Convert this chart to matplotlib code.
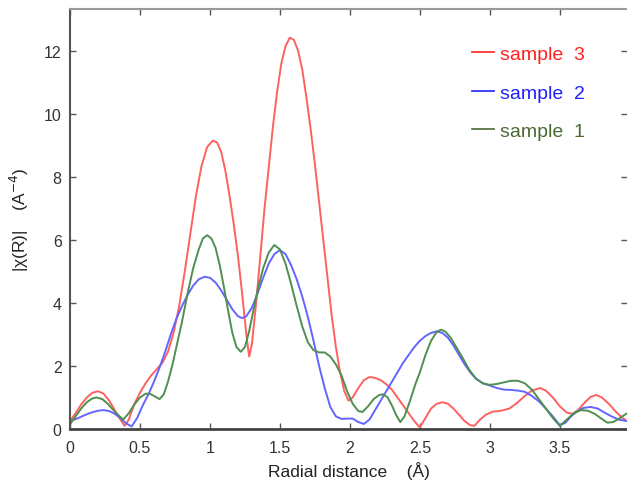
import matplotlib
matplotlib.use("Agg")
import matplotlib.pyplot as plt

plt.rcParams["font.family"] = ["Liberation Sans", "DejaVu Sans"]

# ----------------------------
#   Данные
# ----------------------------

r3 = [0, 0.04, 0.08, 0.12, 0.16, 0.2, 0.24, 0.28, 0.32, 0.36, 0.39, 0.42,
      0.46, 0.5, 0.54, 0.58, 0.62, 0.66, 0.7, 0.74, 0.78, 0.82, 0.86, 0.9,
      0.94, 0.98, 1.02, 1.05, 1.08, 1.11, 1.14, 1.17, 1.2, 1.23, 1.26, 1.28,
      1.3, 1.33, 1.36, 1.39, 1.42, 1.45, 1.48, 1.51, 1.54, 1.57, 1.6, 1.63,
      1.66, 1.69, 1.72, 1.75, 1.78, 1.81, 1.84, 1.87, 1.9, 1.93, 1.96, 1.99,
      2.02, 2.06, 2.1, 2.14, 2.18, 2.22, 2.26, 2.3, 2.34, 2.38, 2.42, 2.46,
      2.5, 2.54, 2.58, 2.62, 2.66, 2.7, 2.74, 2.78, 2.82, 2.86, 2.89, 2.93,
      2.97, 3.02, 3.08, 3.14, 3.2, 3.25, 3.3, 3.36, 3.4, 3.45, 3.5, 3.55,
      3.59, 3.63, 3.68, 3.72, 3.76, 3.8, 3.85, 3.9, 3.94, 3.98]
s3 = [0.25, 0.5, 0.78, 1.0, 1.15, 1.2, 1.12, 0.9, 0.6, 0.3, 0.1, 0.3,
      0.8, 1.15, 1.45, 1.7, 1.9, 2.1, 2.45, 3.05, 3.9, 5.0, 6.2, 7.4,
      8.35, 8.95, 9.15, 9.1, 8.8, 8.2, 7.4, 6.5, 5.5, 4.3, 3.0, 2.3,
      2.7, 4.0, 5.5, 7.0, 8.3, 9.6, 10.7, 11.6, 12.15, 12.42, 12.35, 12.0,
      11.4, 10.5, 9.5, 8.4, 7.2, 6.0, 4.8, 3.6, 2.6, 1.8, 1.2, 0.9,
      1.0, 1.3, 1.55, 1.65, 1.62, 1.55, 1.42, 1.25, 1.0, 0.75, 0.5, 0.25,
      0.05, 0.35, 0.65, 0.8, 0.85, 0.8, 0.65, 0.45, 0.25, 0.12, 0.1, 0.3,
      0.45, 0.55, 0.58, 0.65, 0.85, 1.05, 1.22, 1.3, 1.22, 1.0, 0.72, 0.52,
      0.48, 0.6, 0.85, 1.02, 1.08, 1.0, 0.8, 0.55, 0.38, 0.25]

r2 = [0, 0.05, 0.1, 0.15, 0.2, 0.24, 0.28, 0.32, 0.36, 0.4, 0.44, 0.48,
      0.52, 0.56, 0.6, 0.64, 0.68, 0.72, 0.76, 0.8, 0.84, 0.88, 0.92, 0.96,
      1.0, 1.04, 1.08, 1.12, 1.16, 1.2, 1.23, 1.26, 1.3, 1.34, 1.38, 1.42,
      1.46, 1.5, 1.54, 1.58, 1.62, 1.66, 1.7, 1.74, 1.78, 1.82, 1.86, 1.9,
      1.94, 1.98, 2.02, 2.06, 2.1, 2.14, 2.18, 2.22, 2.26, 2.3, 2.34, 2.38,
      2.42, 2.46, 2.5, 2.54, 2.58, 2.62, 2.66, 2.7, 2.74, 2.78, 2.82, 2.86,
      2.9, 2.95, 3.0, 3.05, 3.1, 3.15, 3.2, 3.25, 3.3, 3.35, 3.4, 3.45,
      3.5, 3.54, 3.58, 3.62, 3.67, 3.72, 3.77, 3.82, 3.87, 3.92, 3.98]
s2 = [0.25, 0.33, 0.43, 0.52, 0.58, 0.6, 0.57, 0.48, 0.35, 0.18, 0.08, 0.35,
      0.75, 1.1, 1.5, 1.95, 2.45, 3.0, 3.5, 3.9, 4.25, 4.55, 4.75, 4.83,
      4.8, 4.65, 4.4, 4.1, 3.8, 3.58, 3.52, 3.58, 3.85, 4.3, 4.8, 5.25,
      5.55, 5.68, 5.55, 5.2, 4.75, 4.2, 3.55, 2.8, 2.0, 1.3, 0.7, 0.4,
      0.32, 0.33, 0.33, 0.22, 0.16, 0.3, 0.6, 0.9, 1.2, 1.5, 1.8, 2.1,
      2.35, 2.6, 2.8, 2.95, 3.05, 3.1, 3.05, 2.9, 2.65, 2.35, 2.05, 1.8,
      1.6, 1.45, 1.38, 1.3, 1.25, 1.24, 1.22, 1.18, 1.05, 0.88, 0.65, 0.4,
      0.12, 0.2, 0.4, 0.55, 0.67, 0.7, 0.65, 0.52, 0.4, 0.3, 0.25]

r1 = [0, 0.04, 0.08, 0.12, 0.16, 0.19, 0.23, 0.27, 0.31, 0.35, 0.38, 0.42,
      0.46, 0.5, 0.54, 0.57, 0.6, 0.64, 0.67, 0.7, 0.73, 0.76, 0.8, 0.84,
      0.88, 0.92, 0.95, 0.98, 1.01, 1.04, 1.07, 1.1, 1.13, 1.16, 1.19, 1.22,
      1.25, 1.28, 1.31, 1.34, 1.38, 1.42, 1.46, 1.5, 1.54, 1.58, 1.62, 1.66,
      1.7, 1.74, 1.78, 1.82, 1.86, 1.9, 1.94, 1.98, 2.02, 2.06, 2.09, 2.13,
      2.17, 2.21, 2.24, 2.27, 2.3, 2.33, 2.36, 2.39, 2.43, 2.47, 2.5, 2.54,
      2.58, 2.62, 2.65, 2.68, 2.72, 2.76, 2.8, 2.85, 2.9, 2.95, 3.0, 3.05,
      3.1, 3.15, 3.2, 3.25, 3.3, 3.35, 3.4, 3.45, 3.5, 3.55, 3.6, 3.65,
      3.7, 3.75, 3.8, 3.84, 3.88, 3.92, 3.98]
s1 = [0.15, 0.4, 0.65, 0.85, 0.97, 1.0, 0.95, 0.8, 0.6, 0.42, 0.3, 0.5,
      0.78, 1.0, 1.12, 1.12, 1.05, 0.95, 1.1, 1.5, 2.0, 2.6, 3.4, 4.3,
      5.1, 5.7, 6.05, 6.15, 6.05, 5.75, 5.2, 4.5, 3.75, 3.05, 2.6, 2.45,
      2.6, 3.1, 3.75, 4.4, 5.1, 5.6, 5.84, 5.7, 5.25, 4.6, 3.9, 3.25,
      2.75, 2.5, 2.43, 2.43, 2.3, 2.05, 1.7, 1.2, 0.8, 0.57, 0.54, 0.72,
      0.95, 1.08, 1.1, 1.0, 0.75, 0.45, 0.22, 0.4, 0.9, 1.45, 1.8, 2.35,
      2.8, 3.08, 3.15, 3.1, 2.9, 2.6, 2.3, 1.9, 1.6, 1.45, 1.4, 1.43,
      1.48, 1.53, 1.53, 1.45, 1.25, 0.95, 0.65, 0.35, 0.1, 0.3, 0.5, 0.6,
      0.58, 0.48, 0.32, 0.2, 0.22, 0.32, 0.5]

series = [
    ("sample  3", r3, s3, "#ff6060", "#ff2020"),
    ("sample  2", r2, s2, "#6464ff", "#2020ff"),
    ("sample  1", r1, s1, "#4f8f4f", "#4a6a35"),
]

xticks = [0, 0.5, 1, 1.5, 2, 2.5, 3, 3.5]
xticklabels = ["0", "0.5", "1", "1.5", "2", "2.5", "3", "3.5"]
yticks = [0, 2, 4, 6, 8, 10, 12]

# ----------------------------
#   Рисунок
# ----------------------------

fig = plt.figure(figsize=(6.27, 4.81), dpi=100)
ax = fig.add_axes([70 / 627, 1 - 430 / 481, 1 - 70 / 627, 420 / 481])

handles = []
for label, xs, ys, col, _ in series:
    line, = ax.plot(xs, ys, color=col, lw=1.4, label=label)
    handles.append(line)

ax.set_xlim(0, 3.98)
ax.set_ylim(0, 13.33)
ax.set_xticks(xticks)
ax.set_xticklabels(xticklabels)
ax.set_yticks(yticks)

ax.tick_params(axis="both", direction="in", length=4, width=1,
               colors="#555555", labelcolor="#333333", labelsize=11.5,
               top=True, right=True)
ax.tick_params(axis="x", pad=8)
ax.tick_params(axis="y", pad=6)

ax.spines["left"].set_color("#555555")
ax.spines["left"].set_linewidth(1.5)
ax.spines["bottom"].set_color("#444444")
ax.spines["bottom"].set_linewidth(2)
ax.spines["top"].set_color("#999999")
ax.spines["top"].set_linewidth(1.5)
ax.spines["right"].set_visible(False)

ax.set_xlabel("Radial distance    (Å)", fontsize=12.5, color="#222222", labelpad=4)
ax.set_ylabel("|χ(R)|    (A$^{-4}$)", fontsize=12.5, color="#222222", labelpad=9)

# легенда: цветной текст, шаг строк ~38 px
leg = ax.legend(handles=handles, loc="upper left", bbox_to_anchor=(0.722, 0.913),
                frameon=False, fontsize=14, handlelength=1.1, handletextpad=0.35,
                labelspacing=1.07, borderaxespad=0, borderpad=0,
                labelcolor=[s[4] for s in series])
for lh, s in zip(leg.get_lines(), series):
    lh.set_color(s[4])
    lh.set_linewidth(1.2)

fig.savefig("out.png", dpi=100)
